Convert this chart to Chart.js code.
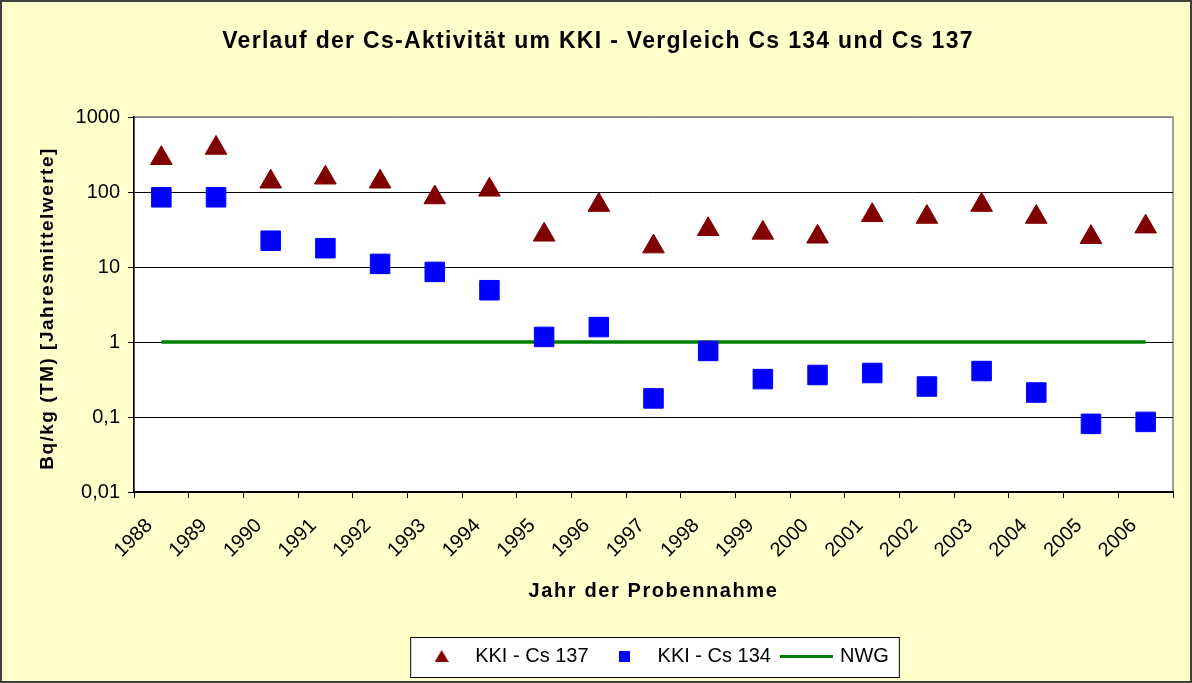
<!DOCTYPE html>
<html>
<head>
<meta charset="utf-8">
<script src="https://cdn.jsdelivr.net/npm/chart.js@4"></script>
<style>
  html, body { margin: 0; padding: 0; background: #FFFFCC; }
  #wrap { width: 1192px; height: 683px; }
</style>
</head>
<body>
<div id="wrap"><canvas id="chart"></canvas></div>
<script>
// data
const years = ["1988", "1989", "1990", "1991", "1992", "1993", "1994", "1995", "1996", "1997",
  "1998", "1999", "2000", "2001", "2002", "2003", "2004", "2005", "2006"];
const cs137 = [282, 386, 137, 155, 137, 84.5, 107, 26.9, 66.9, 18.7, 31.8, 28.5, 25.3, 49, 46.4, 66.9, 46.4, 25, 34.5];
const cs134 = [85, 85, 22.4, 17.8, 11, 8.6, 4.9, 1.17, 1.58, 0.177, 0.76, 0.32, 0.363, 0.386, 0.255, 0.41, 0.212, 0.081, 0.086];
const nwg = years.map(() => 1);
const yTicks = [0.01, 0.1, 1, 10, 100, 1000];

const FONT = "'Liberation Sans', Arial, sans-serif";
const titleText = "Verlauf der Cs-Aktivität um KKI - Vergleich Cs 134 und Cs 137";
const xTitle = "Jahr der Probennahme";
const yTitle = "Bq/kg (TM) [Jahresmittelwerte]";

// small pictures for the legend markers
const makeIcon = (w, h, draw) => {
    const c = document.createElement("canvas");
    c.width = w;
    c.height = h;
    draw(c.getContext("2d"));
    return c;
};
const legendIcons = [
    makeIcon(14, 12, (g) => {
        g.fillStyle = "#800000";
        g.beginPath();
        g.moveTo(7, 0);
        g.lineTo(14, 12);
        g.lineTo(0, 12);
        g.closePath();
        g.fill();
    }),
    makeIcon(11, 11, (g) => {
        g.fillStyle = "#0000FF";
        g.fillRect(0, 0, 11, 11);
    }),
    makeIcon(53, 3, (g) => {
        g.fillStyle = "#008000";
        g.fillRect(0, 0, 53, 3);
    })
];

// yellow background, white plot area, frame, legend box and the titles
const framePlugin = {
    id: "frame",
    beforeDraw(chart) {
        const ctx = chart.ctx;
        const a = chart.chartArea;
        ctx.save();
        ctx.fillStyle = "#FFFFCC";
        ctx.fillRect(0, 0, chart.width, chart.height);
        ctx.fillStyle = "#FFFFFF";
        ctx.fillRect(a.left, a.top, a.right - a.left, a.bottom - a.top);
        ctx.strokeStyle = "#808080";
        ctx.lineWidth = 1.5;
        ctx.strokeRect(a.left, a.top, a.right - a.left, a.bottom - a.top);

        const hb = chart.legend.legendHitBoxes;
        if (hb && hb.length) {
            const l = Math.min(...hb.map(h => h.left));
            const r = Math.max(...hb.map(h => h.left + h.width));
            const t = Math.min(...hb.map(h => h.top));
            const b = Math.max(...hb.map(h => h.top + h.height));
            ctx.fillStyle = "#FFFFFF";
            ctx.fillRect(l - 8, t - 9, r - l + 18, b - t + 20);
            ctx.strokeStyle = "#000000";
            ctx.lineWidth = 1;
            ctx.strokeRect(l - 8 + 0.5, t - 9 + 0.5, r - l + 18, b - t + 20);
        }
        ctx.restore();
    },
    afterDraw(chart) {
        const ctx = chart.ctx;
        const a = chart.chartArea;
        ctx.save();
        ctx.fillStyle = "#000";
        ctx.textAlign = "center";
        ctx.textBaseline = "alphabetic";

        ctx.font = "bold 23px " + FONT;
        ctx.letterSpacing = "1.3px";
        ctx.fillText(titleText, chart.width / 2 + 2, 48);

        ctx.font = "bold 20px " + FONT;
        ctx.letterSpacing = "1.6px";
        ctx.fillText(xTitle, (a.left + a.right) / 2, 597);

        ctx.font = "bold 19px " + FONT;
        ctx.letterSpacing = "1.5px";
        ctx.translate(53, (a.top + a.bottom) / 2 + 4);
        ctx.rotate(-Math.PI / 2);
        ctx.fillText(yTitle, 0, 0);
        ctx.restore();

        ctx.save();
        ctx.strokeStyle = "#404040";
        ctx.lineWidth = 2;
        ctx.strokeRect(1, 1, chart.width - 2, chart.height - 2);
        ctx.restore();
    }
};

const ctx = document.getElementById("chart").getContext("2d");
const myChart = new Chart(ctx, {
    type: "line",
    data: {
        labels: years,
        datasets: [{
            label: "KKI - Cs 137",
            data: cs137,
            showLine: false,
            pointStyle: "triangle",
            pointRadius: 12.5,
            pointHoverRadius: 12.5,
            backgroundColor: "#800000",
            borderColor: "#800000",
            borderWidth: 1,
            order: 1
        }, {
            label: "KKI - Cs 134",
            data: cs134,
            showLine: false,
            pointStyle: "rect",
            pointRadius: 13.8,
            pointHoverRadius: 13.8,
            backgroundColor: "#0000FF",
            borderColor: "#0000FF",
            borderWidth: 1,
            order: 1
        }, {
            label: "NWG",
            data: nwg,
            pointStyle: "line",
            pointRadius: 0,
            pointHoverRadius: 0,
            borderColor: "#008000",
            backgroundColor: "#008000",
            borderWidth: 3.5,
            order: 2
        }]
    },
    options: {
        responsive: true,
        maintainAspectRatio: false,
        animation: false,
        layout: { padding: { left: 0, right: 19, top: 117, bottom: 7 } },
        plugins: {
            title: { display: false },
            legend: {
                position: "bottom",
                fullSize: false,
                labels: {
                    usePointStyle: true,
                    pointStyleWidth: 47,
                    boxHeight: 12,
                    padding: 12,
                    color: "#000",
                    font: { family: FONT, size: 20 },
                    generateLabels: (chart) => {
                        const items = Chart.defaults.plugins.legend.labels.generateLabels(chart);
                        items.forEach((it, i) => { it.pointStyle = legendIcons[i]; });
                        return items;
                    }
                }
            },
            tooltip: { enabled: false }
        },
        scales: {
            x: {
                type: "category",
                offset: true,
                afterFit: (scale) => { scale.height = 142; },
                grid: { offset: true, drawOnChartArea: false, color: "#000", tickLength: 6 },
                border: { color: "#000", width: 1.5 },
                ticks: { color: "#000", minRotation: 45, maxRotation: 45, autoSkip: false,
                    labelOffset: -12, padding: 16,
                    font: { family: FONT, size: 20 } }
            },
            y: {
                type: "logarithmic",
                min: 0.01,
                max: 1000,
                afterFit: (scale) => { scale.width = 134; },
                afterBuildTicks: (scale) => { scale.ticks = yTicks.map(v => ({ value: v })); },
                grid: {
                    color: (c) => (c.tick && c.tick.value === 1000 ? "#808080" : "#000"),
                    tickColor: "#000",
                    tickLength: 6
                },
                border: { color: "#000", width: 1.5 },
                ticks: {
                    color: "#000",
                    padding: 8,
                    font: { family: FONT, size: 20 },
                    callback: (v) => String(v).replace(".", ",")
                }
            }
        }
    },
    plugins: [framePlugin]
});
</script>
</body>
</html>
